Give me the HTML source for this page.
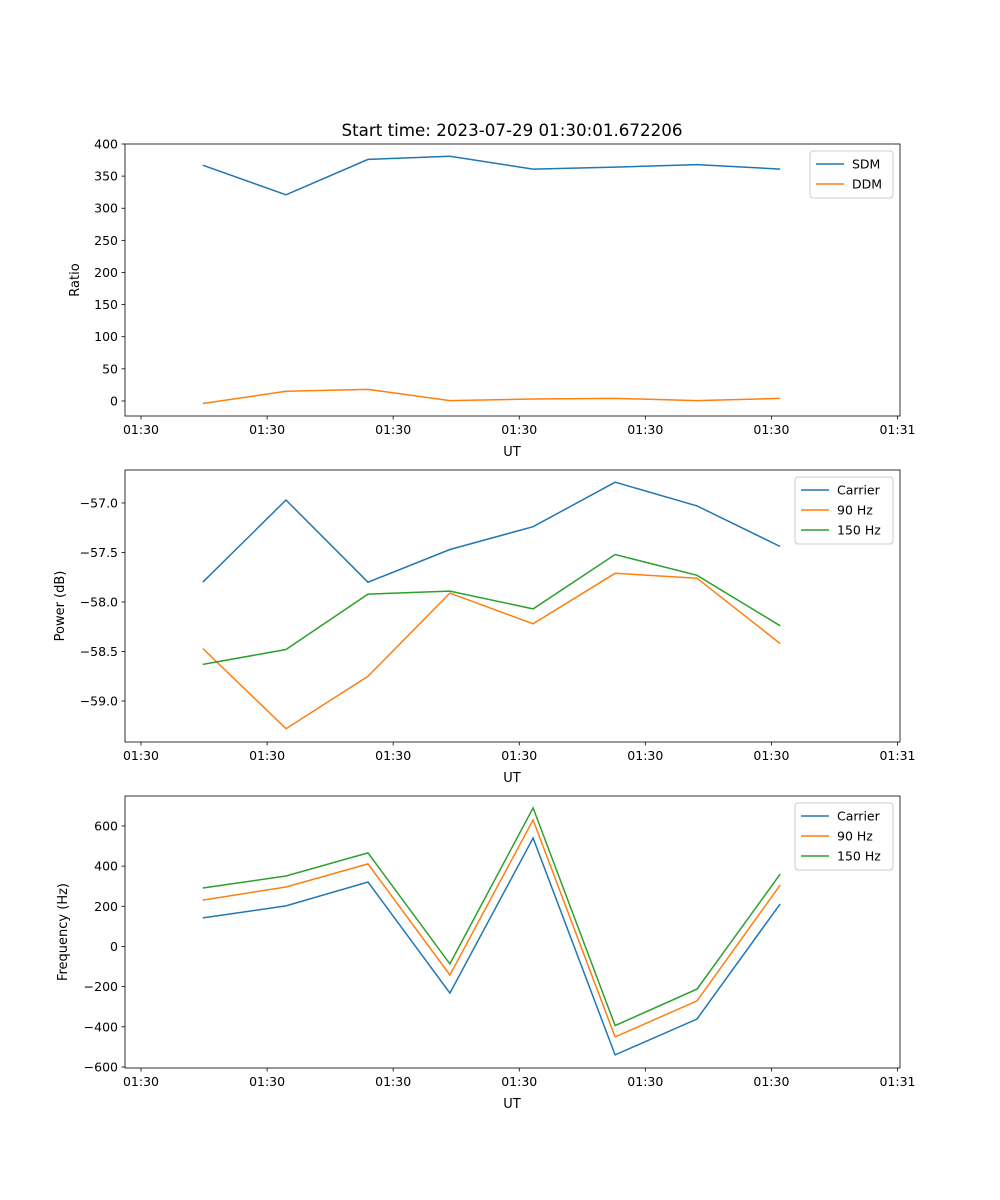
<!DOCTYPE html>
<html><head><meta charset="utf-8"><style>
body{margin:0;background:#fff}
svg{display:block;font-family:"DejaVu Sans","Liberation Sans",sans-serif}
</style></head><body>
<svg id="fig" width="1000" height="1200">
<text x="512" y="136" text-anchor="middle" font-size="16.7">Start time: 2023-07-29 01:30:01.672206</text>
</svg>
<script>
const times = [4.9, 11.5, 18.0, 24.5, 31.1, 37.6, 44.1, 50.7];
const xTicks = [0, 10, 20, 30, 40, 50, 60];
const xTickLabels = ["01:30","01:30","01:30","01:30","01:30","01:30","01:31"];
const sdm = [367, 321, 376, 381, 361, 364, 368, 361];
const ddm = [-4, 15, 18, 0.5, 3, 4, 0.5, 4];
const pCarrier = [-57.80, -56.97, -57.80, -57.47, -57.24, -56.79, -57.03, -57.44];
const p90 = [-58.47, -59.28, -58.75, -57.91, -58.22, -57.71, -57.76, -58.42];
const p150 = [-58.63, -58.48, -57.92, -57.89, -58.07, -57.52, -57.73, -58.24];
const fCarrier = [142, 202, 321, -232, 540, -540, -361, 212];
const f90 = [231, 296, 411, -142, 630, -450, -271, 306];
const f150 = [291, 351, 466, -87, 690, -394, -212, 360];
const ratioTicks = [0,50,100,150,200,250,300,350,400];
const powerTicks = [-59.0,-58.5,-58.0,-57.5,-57.0];
const freqTicks = [-600,-400,-200,0,200,400,600];

const NS="http://www.w3.org/2000/svg";
const svg=document.getElementById('fig');
const L=125,R=900,X0=-1.27,X1=60.2;
const xs=t=>L+(t-X0)/(X1-X0)*(R-L);
function mk(tag,attrs,parent){const e=document.createElementNS(NS,tag);for(const k in attrs)e.setAttribute(k,attrs[k]);(parent||svg).appendChild(e);return e;}
const C=['#1f77b4','#ff7f0e','#2ca02c'];

function panel(name,top,bot,y0,y1,yTicks,fmt,ylabel,ylx,series,names,leg){
  const g=mk('g',{});
  
  
  const ys=v=>bot-(v-y0)/(y1-y0)*(bot-top);
  series.forEach((s,i)=>{
    const p=mk('polyline',{points:s.map((v,j)=>xs(times[j]).toFixed(1)+','+ys(v).toFixed(1)).join(' '),fill:'none',stroke:C[i],'stroke-width':1.5},g);
    
    
  });
  mk('rect',{x:L,y:top,width:R-L,height:bot-top,fill:'none',stroke:'#000','stroke-width':0.8},g);
  xTicks.forEach((t,i)=>{const x=xs(t);mk('line',{x1:x,x2:x,y1:bot,y2:bot+3.5,stroke:'#000','stroke-width':0.8},g);
    const tx=mk('text',{x:x,y:bot+18,'text-anchor':'middle','font-size':12.5},g);tx.textContent=xTickLabels[i];
    
    });
  yTicks.forEach(v=>{const y=ys(v);mk('line',{x1:L-3.5,x2:L,y1:y,y2:y,stroke:'#000','stroke-width':0.8},g);
    const tx=mk('text',{x:L-7,y:y+4.5,'text-anchor':'end','font-size':12.5},g);tx.textContent=fmt(v);
    
    });
  const xl=mk('text',{x:512,y:bot+40,'text-anchor':'middle','font-size':13},g);xl.textContent='UT';
  
  
  const yl=mk('text',{x:ylx,y:(top+bot)/2,'text-anchor':'middle','font-size':13,transform:`rotate(-90 ${ylx} ${(top+bot)/2})`},g);yl.textContent=ylabel;
  
  
  const lg=mk('g',{},g);
  
  
  mk('rect',{x:leg,y:top+7,width:893-leg,height:names.length*20+7,fill:'#fff',stroke:'#ccc',rx:3},lg);
  names.forEach((n,i)=>{const y=top+20+i*20;
    mk('line',{x1:leg+6,x2:leg+34,y1:y,y2:y,stroke:C[i],'stroke-width':1.5},lg);
    const t=mk('text',{x:leg+42,y:y+4.5,'font-size':12.5},lg);t.textContent=n;
    
    });
}
panel('ratio',144,416,-23.4,400,ratioTicks,v=>String(v),'Ratio',79,[sdm,ddm],['SDM','DDM'],810);
panel('power',470,742,-59.414,-56.667,powerTicks,v=>'\u2212'+Math.abs(v).toFixed(1),'Power (dB)',64,[pCarrier,p90,p150],['Carrier','90 Hz','150 Hz'],795);
panel('frequency',796,1068,-605,749,freqTicks,v=>(v<0?'\u2212':'')+Math.abs(v),'Frequency (Hz)',67,[fCarrier,f90,f150],['Carrier','90 Hz','150 Hz'],795);
</script>
</body></html>
